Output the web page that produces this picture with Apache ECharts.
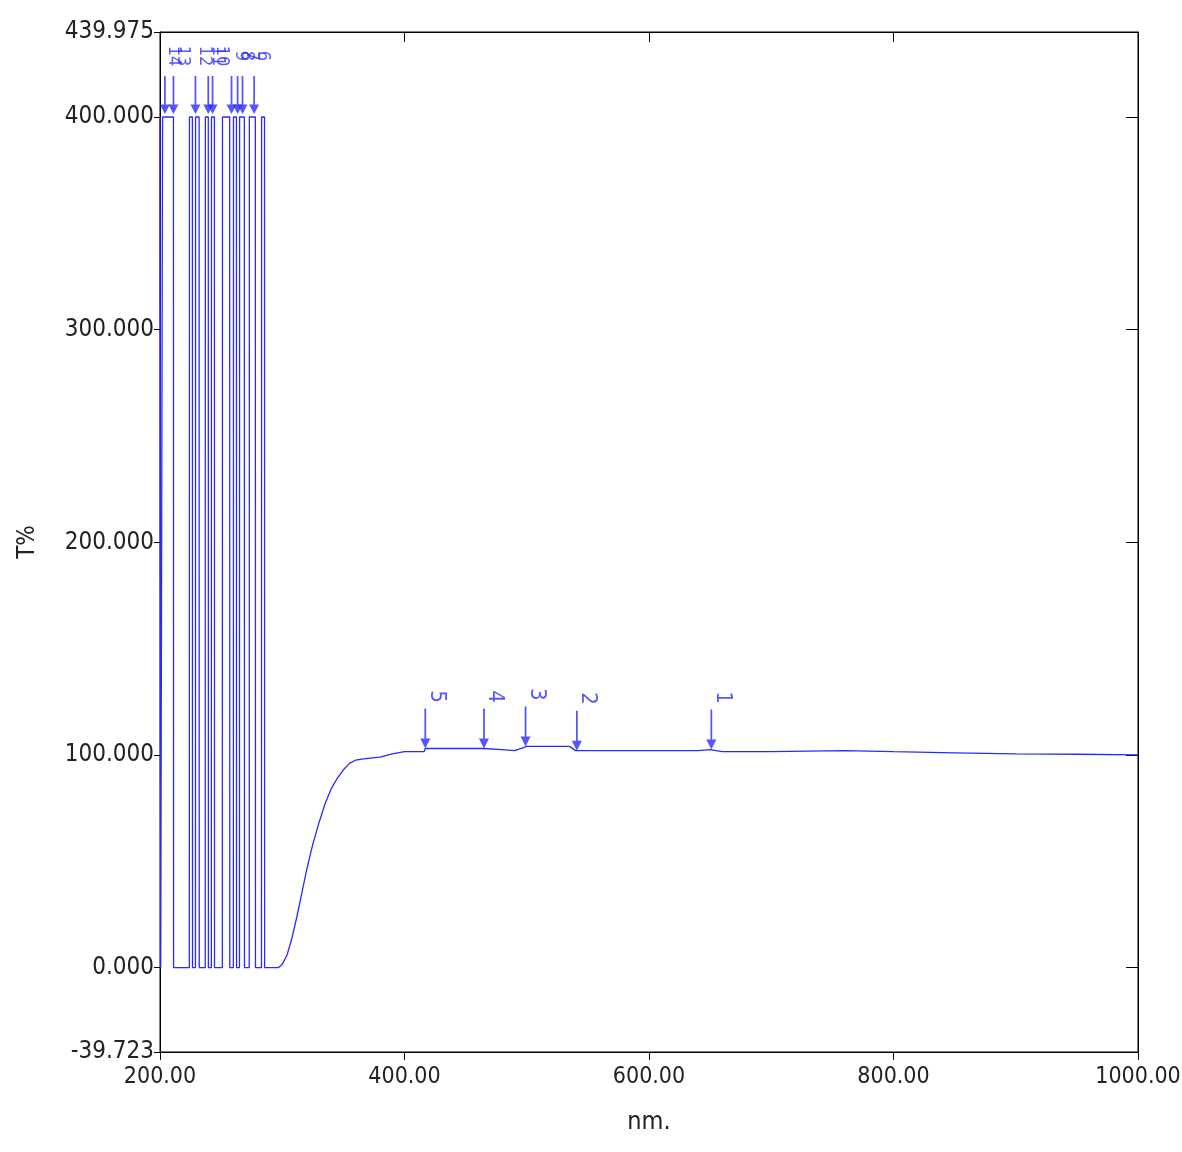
<!DOCTYPE html>
<html style="height: 100%">
<head>
  <meta charset="utf-8">
  <script src="https://cdn.jsdelivr.net/npm/echarts@6/dist/echarts.min.js"></script>
</head>
<body style="height: 100%; margin: 0; background: #fff">
  <div id="container" style="width: 1182px; height: 1152px"></div>
  <script>
    // wavelength (nm) / T% of spectrum
    var wl = [200, 200.5, 200.6, 202, 202.1, 211, 211.1, 224, 224.1, 226.5, 226.6, 229, 229.1, 232, 232.1, 237, 237.1,
      239.5, 239.6, 242, 242.1, 244.5, 244.6, 251, 251.1, 257, 257.1, 260, 260.1, 262.5, 262.6, 265, 265.1,
      269, 269.1, 273, 273.1, 278, 278.1, 283, 283.1, 285.5, 285.6, 292, 297, 300, 304, 308, 312, 316, 320, 325, 330, 335,
      340, 345, 350, 355, 360, 365,
      372, 380, 390, 400, 410, 416, 417, 420, 440, 465, 480, 490, 495, 500, 520, 535, 540, 560, 600, 640, 650, 660, 700,
      760, 800, 850, 900, 950, 1000];
    var tp = [400, 400, 0, 0, 400, 400, 0, 0, 400, 400, 0, 0, 400, 400, 0, 0, 400,
      400, 0, 0, 400, 400, 0, 0, 400, 400, 0, 0, 400, 400, 0, 0, 400,
      400, 0, 0, 400, 400, 0, 0, 400, 400, 0, 0, 0, 1.5, 6, 14, 24, 35, 46, 58, 68, 77,
      84, 89, 93, 96, 97.5, 98,
      98.5, 99, 100.5, 101.5, 101.5, 101.5, 103, 103, 103, 103, 102.5, 102, 103, 104, 104, 104, 102, 102, 102, 102, 102.5, 101.5, 101.5,
      102, 101.5, 101, 100.5, 100.3, 100];
    var peakWl = [417, 465, 499, 541, 651];
    var peakVal = [103, 103, 104, 102, 102.5];
    var peakLbl = ['5', '4', '3', '2', '1'];
    var topWl = [204, 211, 229, 239.5, 243, 258.5, 263.5, 267.5, 277];
    var topLbl = ['14', '13', '12', '11', '10', '9', '8', '7', '6'];
    var yTicks = [-39.723, 0, 100, 200, 300, 400, 439.975];

    var font = '"Liberation Sans Narrow", "DejaVu Sans Condensed", sans-serif';
    var arrow = 'path://M4.3,0 L5.7,0 L5.7,30 L9,30 L5,40 L1,30 L4.3,30 Z';
    var chart = echarts.init(document.getElementById('container'));
    var pts = wl.map(function (x, i) { return [x, tp[i]]; });
    var peaks = peakWl.map(function (x, i) { return { value: [x, peakVal[i]], name: peakLbl[i] }; });
    var tops = topWl.map(function (x, i) { return { value: [x, 400], name: topLbl[i] }; });
    var axLine = { onZero: false, lineStyle: { color: '#000' } };

    chart.setOption({
      animation: false,
      grid: { left: 160, right: 44, top: 32, bottom: 100, outerBoundsMode: 'none',
        show: true, borderColor: '#000', borderWidth: 1 },
      xAxis: [{
        type: 'value', min: 200, max: 1000, interval: 200,
        name: 'nm.', nameLocation: 'middle', nameGap: 58,
        nameTextStyle: { fontFamily: font, fontSize: 25, color: '#222' },
        axisLine: axLine,
        axisTick: { inside: false, length: 8, lineStyle: { color: '#000' } },
        axisLabel: { fontFamily: font, fontSize: 23, color: '#222', margin: 14, formatter: function (v) { return v.toFixed(2); } },
        splitLine: { show: false }
      }, {
        type: 'value', position: 'top', min: 200, max: 1000, interval: 200,
        axisLine: axLine, axisTick: { inside: true, length: 10, lineStyle: { color: '#000' } },
        axisLabel: { show: false }, splitLine: { show: false }
      }],
      yAxis: [{
        type: 'value', min: -39.723, max: 439.975,
        name: 'T%', nameLocation: 'middle', nameGap: 120, nameRotate: 90,
        nameTextStyle: { fontFamily: font, fontSize: 24, color: '#222' },
        axisLine: axLine,
        axisTick: { inside: false, length: 6, customValues: yTicks, lineStyle: { color: '#000' } },
        axisLabel: { fontFamily: font, fontSize: 24, color: '#222', margin: 6, customValues: yTicks,
          formatter: function (v) { return v.toFixed(3); } },
        splitLine: { show: false }
      }, {
        type: 'value', position: 'right', min: -39.723, max: 439.975,
        axisLine: axLine,
        axisTick: { inside: true, length: 12, customValues: [0, 100, 200, 300, 400], lineStyle: { color: '#000' } },
        axisLabel: { show: false, customValues: [0, 100, 200, 300, 400] }, splitLine: { show: false }
      }],
      series: [
        { type: 'line', data: pts, symbol: 'none', lineStyle: { color: '#2a2aff', width: 1.3 } },
        {
          type: 'scatter', data: peaks, symbol: arrow, symbolSize: [10, 40], symbolOffset: [0, -20],
          itemStyle: { color: '#2a2aff' },
          label: { show: true, formatter: '{b}', position: 'top', distance: 12, rotate: -90,
            fontFamily: font, fontSize: 22, color: '#2a2aff' }
        },
        {
          type: 'scatter', data: tops, symbol: arrow, symbolSize: [10, 38], symbolOffset: [0, -22],
          itemStyle: { color: '#2a2aff' },
          label: { show: true, formatter: '{b}', position: 'top', distance: 20, rotate: -90,
            fontFamily: font, fontSize: 18, color: '#2a2aff' }
        }
      ]
    });
  </script>
</body>
</html>
